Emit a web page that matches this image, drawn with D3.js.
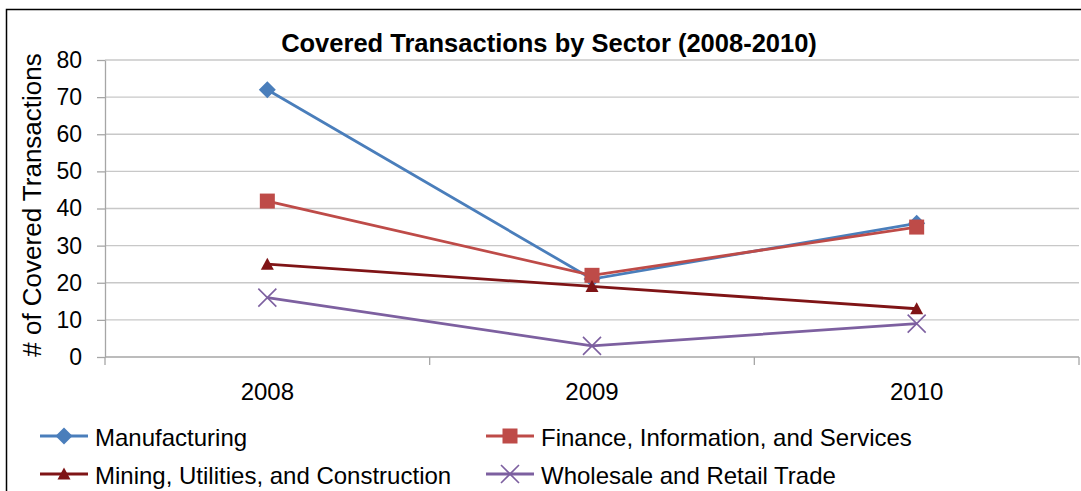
<!DOCTYPE html>
<html>
<head>
<meta charset="utf-8">
<script src="https://cdn.jsdelivr.net/npm/d3@7"></script>
<style>
    body { margin: 0; background: #fff; font-family: Arial, 'Liberation Sans', sans-serif; }
    .grid line { stroke: #c8c8c8; stroke-width: 1.3; }
    .axis path, .axis line { stroke: #a6a6a6; stroke-width: 1.3; }
</style>
</head>
<body>
<div id="chart"></div>
<script>
// data
var years = ["2008", "2009", "2010"];
var manufacturing = [72, 21, 36];
var finance = [42, 22, 35];
var mining = [25, 19, 13];
var wholesale = [16, 3, 9];
var yTicks = [0, 10, 20, 30, 40, 50, 60, 70, 80];

var series = [
    {name: "Manufacturing", values: manufacturing, color: "#4a7ebb", marker: "diamond"},
    {name: "Finance, Information, and Services", values: finance, color: "#be4b48", marker: "square"},
    {name: "Mining, Utilities, and Construction", values: mining, color: "#7f1416", marker: "triangle"},
    {name: "Wholesale and Retail Trade", values: wholesale, color: "#7d60a0", marker: "cross"}
];

var W = 1081, H = 491;
var plot = {left: 105, right: 1079, top: 60, bottom: 357};

var svg = d3.select("#chart").append("svg")
    .attr("width", W).attr("height", H);

// outer border (left + top only visible)
svg.append("path")
    .attr("d", "M6.5," + H + "V9.5H" + W)
    .attr("fill", "none").attr("stroke", "#000").attr("stroke-width", 1.5);

var x = d3.scaleBand().domain(years).range([plot.left, plot.right]);
var y = d3.scaleLinear().domain([0, 80]).range([plot.bottom, plot.top]);

// gridlines
svg.append("g").attr("class", "grid")
    .selectAll("line").data(yTicks.slice(1)).enter().append("line")
    .attr("x1", plot.left).attr("x2", plot.right)
    .attr("y1", function(d) { return y(d); })
    .attr("y2", function(d) { return y(d); });

// y axis
var yAxis = svg.append("g").attr("class", "axis")
    .attr("transform", "translate(" + plot.left + ",0)")
    .call(d3.axisLeft(y).tickValues(yTicks).tickSize(8).tickSizeOuter(0).tickPadding(15));
yAxis.selectAll("text").style("font-size", "23px").style("font-family", "Arial, 'Liberation Sans', sans-serif").attr("fill", "#000");

// x axis, ticks between categories
var xAxisG = svg.append("g").attr("class", "axis")
    .attr("transform", "translate(0," + plot.bottom + ")");
xAxisG.append("line").attr("x1", plot.left).attr("x2", plot.right);
var bounds = years.map(function(d) { return x(d); }).concat([x(years[years.length - 1]) + x.bandwidth()]);
xAxisG.selectAll(".tk").data(bounds).enter().append("line")
    .attr("class", "tk")
    .attr("x1", function(d) { return d; }).attr("x2", function(d) { return d; })
    .attr("y1", 0).attr("y2", 8);
xAxisG.selectAll("text").data(years).enter().append("text")
    .attr("x", function(d) { return x(d) + x.bandwidth() / 2; })
    .attr("y", 43)
    .attr("text-anchor", "middle")
    .style("font-size", "24px")
    .text(function(d) { return d; });

// title
svg.append("text")
    .attr("x", 549).attr("y", 52)
    .attr("text-anchor", "middle")
    .style("font-size", "25.5px").style("font-weight", "bold")
    .text("Covered Transactions by Sector (2008-2010)");

// y axis title
svg.append("text")
    .attr("transform", "translate(41,205) rotate(-90)")
    .attr("text-anchor", "middle")
    .style("font-size", "26px")
    .text("# of Covered Transactions");

function drawMarker(g, type, color) {
    if (type === "diamond") {
        g.append("path").attr("d", "M0,-8.5L8.5,0L0,8.5L-8.5,0Z").attr("fill", color);
    } else if (type === "square") {
        g.append("rect").attr("x", -7.5).attr("y", -7.5).attr("width", 15).attr("height", 15).attr("fill", color);
    } else if (type === "triangle") {
        g.append("path").attr("d", "M0,-6.5L6.5,5.5L-6.5,5.5Z").attr("fill", color);
    } else {
        g.append("path").attr("d", "M-9,-9L9,9M-9,9L9,-9").attr("stroke", color).attr("stroke-width", 1.6).attr("fill", "none");
    }
}

var line = d3.line()
    .x(function(d, i) { return x(years[i]) + x.bandwidth() / 2; })
    .y(function(d) { return y(d); });

series.forEach(function(s) {
    svg.append("path")
        .datum(s.values)
        .attr("d", line)
        .attr("fill", "none")
        .attr("stroke", s.color)
        .attr("stroke-width", 2.8);
    s.values.forEach(function(v, i) {
        var g = svg.append("g")
            .attr("transform", "translate(" + (x(years[i]) + x.bandwidth() / 2) + "," + y(v) + ")");
        drawMarker(g, s.marker, s.color);
    });
});

// legend
var legendPos = [[40, 436], [486, 436], [40, 474], [486, 474]];
series.forEach(function(s, i) {
    var g = svg.append("g").attr("transform", "translate(" + legendPos[i][0] + "," + legendPos[i][1] + ")");
    g.append("line").attr("x1", 0).attr("x2", 48).attr("y1", 0).attr("y2", 0)
        .attr("stroke", s.color).attr("stroke-width", 2.8);
    var m = g.append("g").attr("transform", "translate(24,0)");
    drawMarker(m, s.marker, s.color);
    g.append("text").attr("x", 55).attr("y", 10)
        .style("font-size", "24px")
        .text(s.name);
});
</script>
</body>
</html>
